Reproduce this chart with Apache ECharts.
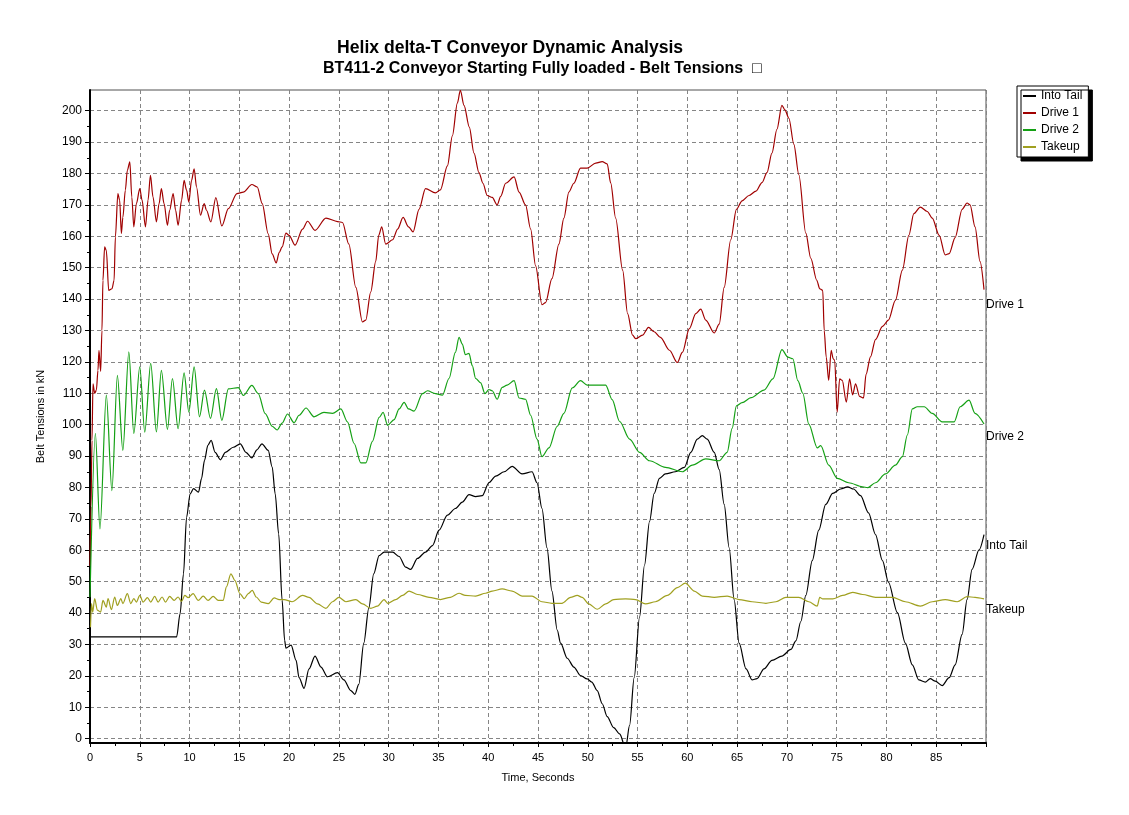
<!DOCTYPE html>
<html lang="en">
<head>
<meta charset="UTF-8"/>
<title>Helix delta-T Conveyor Dynamic Analysis</title>
<script src="https://cdn.jsdelivr.net/npm/echarts@6.0.0/dist/echarts.min.js"></script>
<style>
    html, body { margin: 0; padding: 0; background: #fff; }
    #chart { width: 1129px; height: 815px; }
</style>
</head>
<body>
<div id="chart"></div>
<script>
    // time (s) and belt tension (kN)
    const intoTailT = [0, 8.7, 9.05, 9.39, 9.7, 10.06, 10.4, 10.9, 11.2, 11.5, 11.84, 12.17, 12.57, 13.1, 13.6, 14.4, 15.1, 15.66, 16.26, 16.77, 17.27, 17.9, 18.3, 18.6, 18.95, 19.3, 19.55, 19.68, 20.2, 20.7, 21.0, 21.5, 22.0, 22.6, 23.2, 23.86, 24.86, 25.5, 26.2, 26.6, 27.0, 27.5, 28.0, 28.5, 29.04, 29.54, 30.4, 31.05, 31.7, 32.2, 32.9, 33.7, 34.4, 35.06, 35.9, 36.7, 37.4, 38.07, 38.74, 39.4, 40.07, 40.75, 41.6, 42.4, 43.4, 44.4, 44.9, 45.4, 45.9, 46.4, 46.93, 47.27, 47.94, 48.6, 49.27, 49.94, 50.4, 50.95, 51.45, 51.95, 52.6, 53.2, 53.8, 54.2, 54.66, 55.2, 55.7, 56.2, 56.67, 57.2, 57.8, 58.8, 59.7, 60.35, 61.0, 61.5, 62.0, 62.7, 63.2, 63.7, 64.2, 64.7, 65.2, 65.9, 66.5, 67.0, 67.7, 68.5, 69.5, 70.4, 70.9, 71.4, 71.9, 72.55, 73.2, 73.9, 74.6, 75.4, 76.1, 76.7, 77.4, 78.2, 78.9, 79.6, 80.2, 81.1, 81.9, 82.6, 83.25, 83.9, 84.4, 84.9, 85.6, 86.3, 86.9, 87.6, 88.1, 88.6, 89.3, 89.8];
    const intoTailV = [32.4, 32.4, 39.8, 52.5, 70.5, 78, 79.6, 78.5, 82.8, 88.6, 93.4, 95, 91.2, 88.8, 91.2, 92.8, 93.9, 91.2, 89.4, 92, 93.9, 91.8, 86.5, 78, 65.2, 44, 31.3, 28.8, 29.8, 24.9, 19.4, 16, 22.2, 26.3, 22.8, 19.7, 21, 18.7, 15.3, 14.1, 17.3, 30.4, 41.5, 52.5, 58.3, 59.4, 59.4, 58, 54.6, 53.9, 57.4, 59.4, 61.5, 66.4, 71.2, 73.3, 75.3, 77.7, 77.1, 77.4, 81.5, 83.6, 85, 86.7, 84.3, 85, 81.5, 73.3, 60.8, 47, 34.6, 30.4, 25.6, 22.8, 20.1, 19, 18, 15.3, 11.1, 7, 3.5, 1.5, -3, 4.2, 19.4, 38.7, 55.3, 69.1, 78.1, 82.9, 84.3, 85, 86.4, 91.2, 95.4, 96.5, 95.4, 91.2, 85.7, 74.6, 60.8, 44.3, 30.4, 22.2, 18.7, 19.1, 22.2, 24.9, 26.3, 28.4, 31.1, 37.3, 45.6, 56.7, 66.4, 74.6, 78.1, 79.5, 80.2, 79.5, 77.4, 71.9, 65, 56.7, 49.8, 40.1, 30.4, 23.5, 18.7, 18, 19.1, 18.3, 16.9, 19.4, 23.5, 33.2, 44.3, 53.9, 60.1, 65];

    const drive1T = [0, 0.1, 0.2, 0.3, 0.47, 0.64, 0.8, 0.9, 1.07, 1.2, 1.3, 1.47, 1.64, 1.88, 2.21, 2.42, 2.55, 2.8, 2.98, 3.15, 3.3, 3.55, 3.75, 4.0, 4.2, 4.4, 4.66, 5.0, 5.23, 5.57, 5.83, 6.07, 6.33, 6.67, 6.94, 7.17, 7.44, 7.78, 8.0, 8.35, 8.6, 8.85, 9.2, 9.45, 9.7, 9.93, 10.2, 10.46, 10.7, 11.1, 11.47, 11.7, 12.14, 12.64, 13.24, 13.9, 14.76, 15.4, 16.26, 16.8, 17.3, 17.9, 18.3, 18.7, 19.0, 19.3, 19.68, 20.0, 20.6, 21.35, 21.85, 22.6, 23.7, 24.86, 25.36, 26.0, 26.7, 27.37, 27.7, 28.2, 28.7, 29.0, 29.3, 29.7, 30.4, 30.9, 31.45, 32.0, 32.45, 33.05, 33.7, 34.7, 35.2, 35.9, 36.4, 36.9, 37.2, 37.57, 38.1, 38.57, 39.07, 39.47, 39.9, 40.4, 40.9, 41.25, 41.75, 42.6, 43.1, 43.75, 44.26, 44.76, 45.4, 45.76, 46.4, 47.1, 47.6, 48.1, 48.6, 49.27, 49.94, 50.8, 51.45, 51.95, 52.3, 52.8, 53.5, 54.0, 54.5, 54.8, 55.5, 56.1, 56.67, 57.3, 58.2, 59.0, 59.5, 60.2, 60.85, 61.35, 61.85, 62.7, 63.2, 63.7, 64.36, 64.93, 65.5, 66.2, 66.9, 67.5, 68.0, 68.5, 69.0, 69.5, 69.8, 70.2, 70.7, 71.2, 71.9, 72.4, 73.0, 73.3, 73.6, 73.75, 73.95, 74.2, 74.45, 74.65, 74.8, 75.05, 75.3, 75.56, 75.97, 76.3, 76.6, 76.9, 77.3, 77.7, 77.95, 78.4, 78.9, 79.6, 80.2, 80.9, 81.6, 82.25, 82.75, 83.4, 84.1, 84.6, 85.3, 85.9, 86.3, 86.9, 87.6, 88.1, 88.4, 88.9, 89.4, 89.8];
    const drive1V = [55, 74, 95, 113, 110, 111, 117.3, 123.7, 117, 130, 146, 156.6, 155.5, 142.8, 143.3, 146, 159.8, 173.6, 171.5, 160.9, 166, 174.7, 181, 183.7, 172.5, 163, 170.4, 175.2, 171.5, 163, 171.5, 179.4, 172.5, 164.6, 170.4, 175.2, 170.4, 163.5, 168.3, 173.6, 168.3, 163.5, 171.5, 177.8, 174.7, 170.9, 177.8, 181.5, 175.7, 166.7, 170.4, 168.3, 164.6, 172.3, 163.3, 168.8, 173.6, 174.1, 176.5, 175.7, 170.4, 160.8, 154.4, 151.5, 154.8, 156.6, 161, 160.3, 157.2, 162.3, 164.8, 161.9, 165.8, 164.7, 164.4, 157.5, 143.7, 132.7, 133.3, 142.3, 152, 160.3, 163, 157.5, 158.9, 162.3, 166, 163, 161.4, 168.6, 175.2, 173.8, 174.8, 182.4, 192, 202.4, 206.5, 201.7, 194.8, 186.5, 180.3, 176.9, 173, 172.4, 170, 172.7, 176.9, 178.9, 174.1, 170, 162.3, 150.6, 138.2, 138.9, 146.5, 157.5, 165.8, 174.1, 176.9, 181.7, 181.7, 183.3, 183.8, 183.1, 177, 165.8, 149.2, 135.4, 128.5, 127.4, 128.5, 131, 129.6, 127.8, 123.7, 119.8, 123, 130.6, 135.4, 136.8, 133.3, 129.2, 132, 143.7, 158.9, 168.6, 171.3, 173, 174.4, 177.1, 180.3, 186.5, 194.1, 201.7, 200.3, 197.6, 189.3, 179.6, 161, 153, 146, 143.3, 142.8, 130, 121.5, 114.1, 123.7, 121, 120.5, 104, 114.6, 114.1, 107.2, 114.6, 109.5, 113, 109, 108.5, 116, 121.6, 127.1, 131.3, 133.3, 139.6, 149.2, 160.3, 167.2, 169.3, 167.9, 165.8, 160.3, 154.1, 154.5, 159.6, 168.6, 170.6, 170, 163, 152, 143];

    const drive2T = [0, 0.54, 1.0, 1.64, 2.2, 2.75, 3.3, 3.9, 4.4, 5.0, 5.5, 6.1, 6.67, 7.17, 7.78, 8.28, 8.85, 9.45, 9.93, 10.46, 11.0, 11.5, 12.1, 12.7, 13.24, 13.9, 14.9, 15.4, 16.26, 16.9, 17.6, 18.3, 18.8, 19.3, 19.84, 20.5, 21.0, 21.7, 22.5, 23.5, 24.36, 25.2, 25.86, 26.53, 27.2, 27.7, 28.37, 29.04, 29.44, 29.9, 30.55, 31.05, 31.55, 32.0, 32.55, 33.4, 33.9, 34.7, 35.4, 36.06, 36.7, 37.07, 37.4, 37.7, 38.07, 38.4, 38.74, 39.24, 39.67, 40.07, 40.4, 40.9, 41.4, 41.9, 42.6, 43.1, 43.75, 44.26, 44.9, 45.4, 46.1, 46.93, 47.6, 48.44, 49.27, 49.94, 50.78, 51.8, 52.45, 53.2, 54.2, 55.2, 56.2, 57.8, 59.5, 60.5, 61.85, 63.2, 64.0, 64.5, 64.93, 65.5, 66.4, 67.7, 68.6, 69.5, 70.1, 70.6, 71.1, 71.6, 72.2, 73.05, 73.4, 74.2, 75.06, 76.2, 77.6, 78.1, 78.9, 79.9, 80.9, 81.6, 82.1, 82.6, 83.1, 83.8, 84.6, 85.6, 86.8, 87.4, 88.3, 88.9, 89.8];
    const drive2V = [45, 97.2, 66.8, 109.4, 79, 115.7, 91.8, 123.2, 97.2, 118.4, 97.6, 119.5, 97.7, 117.3, 98.5, 114.7, 98.7, 116.5, 104, 118.4, 102.5, 111, 102, 111.5, 101.4, 111.4, 111.8, 109.3, 112.5, 109.9, 103.5, 99.5, 98.3, 100.5, 103.4, 100.6, 103, 105.3, 102.5, 103.9, 103.6, 105, 100.9, 94, 87.8, 87.8, 94.7, 102.3, 103.9, 99.8, 101.6, 105, 107.1, 105, 104.3, 109.9, 110.8, 109.9, 109.4, 114.7, 123, 127.8, 125.7, 122.3, 122.7, 118.8, 114.7, 113.3, 109.9, 111.2, 110.8, 108.1, 111.9, 112.6, 114, 108.5, 108.1, 103, 95.4, 89.8, 92.6, 99.5, 103.6, 111.7, 114, 112.6, 112.6, 112.6, 108, 101, 95.4, 91.2, 88.5, 86.4, 85, 87.1, 89.1, 88.5, 91.2, 98.8, 106, 107, 108.6, 111, 114.6, 123.9, 121.5, 121, 114, 110, 100.2, 92.6, 93.3, 87.1, 82.9, 81.5, 80.2, 79.9, 81.5, 84.3, 87.1, 89.8, 96.7, 105, 105.7, 105.7, 103.6, 100.9, 100.9, 105.7, 107.8, 103.6, 100.2];

    const takeupT = [0.05, 0.15, 0.27, 0.47, 0.74, 1.07, 1.3, 1.64, 1.81, 2.15, 2.48, 2.75, 3.1, 3.3, 3.75, 4.1, 4.4, 4.66, 5.0, 5.33, 5.77, 6.1, 6.5, 6.84, 7.24, 7.58, 8.0, 8.45, 8.85, 9.19, 9.52, 9.86, 10.36, 10.87, 11.37, 11.87, 12.37, 12.88, 13.38, 13.7, 14.15, 14.55, 15.05, 15.5, 15.9, 16.3, 16.7, 17.2, 17.9, 18.5, 19.0, 19.5, 20.3, 21.35, 22.0, 22.85, 23.7, 24.36, 25.0, 25.7, 26.7, 27.37, 28.2, 28.87, 29.54, 29.9, 30.7, 31.4, 32.05, 32.9, 34.06, 35.2, 36.2, 37.07, 37.7, 38.74, 39.74, 40.4, 41.4, 42.4, 43.4, 44.4, 45.4, 46.4, 47.4, 48.27, 48.94, 49.44, 50.1, 50.95, 51.8, 52.6, 53.8, 54.8, 55.8, 56.8, 58.0, 59.0, 59.8, 60.7, 61.5, 62.7, 64.0, 65.2, 66.5, 67.9, 68.9, 69.9, 71.2, 72.2, 73.05, 73.3, 73.6, 74.6, 75.6, 76.6, 77.6, 78.9, 80.6, 81.9, 83.4, 84.6, 85.9, 87.1, 88.1, 88.9, 89.8];
    const takeupV = [35.5, 43, 40.3, 44.6, 40.9, 40.3, 44, 41.9, 44.6, 41.1, 45.1, 42.4, 44.6, 43, 46.2, 43, 44.6, 43.5, 45.6, 43.5, 44.9, 43.5, 45.3, 43.5, 45.1, 43.5, 45.3, 44, 45.1, 43.7, 45.6, 44.9, 46.2, 44, 45.4, 44, 45.3, 44, 44, 48.3, 52.5, 50.4, 46.2, 44.6, 46.2, 47.2, 45.1, 43.5, 43, 44.8, 44.3, 44.3, 43.6, 45.6, 45, 42.9, 41.5, 43.6, 45, 43.6, 44.3, 42.9, 41.5, 42.2, 44.3, 43.1, 44.3, 45.6, 47, 45.9, 45, 44.3, 45, 46.3, 45.6, 45.4, 46.3, 47, 47.7, 47, 45.4, 45.4, 43.6, 43.1, 43.1, 45, 45.6, 45, 42.9, 41.2, 42.9, 44.3, 44.5, 44.3, 42.9, 43.6, 45.6, 48.1, 49.5, 47, 45.4, 45, 45.4, 44.3, 43.6, 43.1, 43.6, 45, 45, 43.6, 42.2, 45, 44.5, 44.5, 45.6, 46.6, 45.9, 45, 45, 43.6, 42.2, 43.6, 44.3, 43.6, 45.2, 45, 44.5];

    // axis ticks
    const yMajorTicks = [0, 10, 20, 30, 40, 50, 60, 70, 80, 90, 100, 110, 120, 130, 140, 150, 160, 170, 180, 190, 200];
    const yMinorTicks = [5, 15, 25, 35, 45, 55, 65, 75, 85, 95, 105, 115, 125, 135, 145, 155, 165, 175, 185, 195];

    const seriesNames = ['Into Tail', 'Drive 1', 'Drive 2', 'Takeup'];
    const seriesColors = ['#000000', '#a00000', '#14a014', '#a0a020'];

    const FONT = 'Arial, "Liberation Sans", sans-serif';

    function pairs(t, v) {
        return t.map((x, i) => [x, v[i]]);
    }

    const chart = echarts.init(document.getElementById('chart'), null, { renderer: 'canvas' });

    const gridLine = { show: true, lineStyle: { color: '#858585', type: [4, 3], width: 1 } };

    function lineSeries(name, data, color, labelDy) {
        return {
            name: name,
            type: 'line',
            data: data,
            showSymbol: false,
            symbol: 'none',
            smooth: 0.3,
            smoothMonotone: 'x',
            lineStyle: { color: color, width: 1.2 },
            itemStyle: { color: color },
            endLabel: {
                show: true,
                formatter: name,
                color: '#000',
                fontSize: 12,
                fontFamily: FONT,
                distance: 2,
                offset: [0, labelDy]
            },
            emphasis: { disabled: true },
            animation: false
        };
    }

    chart.setOption({
        backgroundColor: '#ffffff',
        animation: false,
        title: [
            {
                text: 'Helix delta-T Conveyor Dynamic Analysis',
                left: 332, top: 34,
                textStyle: { fontSize: 17.6, fontWeight: 'bold', color: '#000', fontFamily: FONT }
            },
            {
                text: 'BT411-2 Conveyor Starting Fully loaded - Belt Tensions  \u25A1',
                left: 318, top: 56,
                textStyle: { fontSize: 16, fontWeight: 'bold', color: '#000', fontFamily: FONT }
            }
        ],
        legend: {
            data: seriesNames,
            orient: 'vertical',
            left: 1017, top: 86,
            padding: [4, 6, 4, 6],
            itemGap: 5,
            itemWidth: 13,
            itemHeight: 2,
            icon: 'rect',
            backgroundColor: '#fff',
            borderColor: '#000',
            borderWidth: 1,
            borderRadius: 0,
            shadowColor: '#000',
            shadowBlur: 0,
            shadowOffsetX: 4,
            shadowOffsetY: 4,
            selectedMode: false,
            textStyle: { fontSize: 12, color: '#000', fontFamily: FONT }
        },
        grid: {
            left: 90, right: 143, top: 90, bottom: 72,
            show: true,
            borderColor: '#505050',
            borderWidth: 1,
            backgroundColor: '#fff',
            outerBoundsMode: 'none'
        },
        xAxis: {
            type: 'value',
            min: 0, max: 90, interval: 5,
            name: 'Time, Seconds',
            nameLocation: 'middle',
            nameGap: 29,
            nameTextStyle: { fontSize: 11, color: '#000', fontFamily: FONT },
            axisLine: { show: true, onZero: false, lineStyle: { color: '#000', width: 2 } },
            axisTick: { show: true, inside: false, length: 4, lineStyle: { color: '#000' } },
            minorTick: { show: true, splitNumber: 2, length: 3, lineStyle: { color: '#000' } },
            axisLabel: { showMaxLabel: false, margin: 9, fontSize: 11, color: '#000', fontFamily: FONT },
            splitLine: gridLine
        },
        yAxis: [
            {
                type: 'value',
                min: -1.4, max: 206.6,
                name: 'Belt Tensions in kN',
                nameLocation: 'middle',
                nameGap: 44,
                nameTextStyle: { fontSize: 11, color: '#000', fontFamily: FONT },
                axisLine: { show: true, onZero: false, lineStyle: { color: '#000', width: 2 } },
                axisTick: { show: true, inside: false, length: 5, customValues: yMajorTicks, lineStyle: { color: '#000' } },
                axisLabel: { customValues: yMajorTicks, margin: 8, fontSize: 12, color: '#000', fontFamily: FONT },
                splitLine: gridLine
            },
            {
                type: 'value',
                min: -1.4, max: 206.6,
                position: 'left',
                axisLine: { show: false },
                axisTick: { show: true, inside: false, length: 3, customValues: yMinorTicks, lineStyle: { color: '#000' } },
                axisLabel: { show: false },
                splitLine: { show: false }
            }
        ],
        series: [
            lineSeries(seriesNames[0], pairs(intoTailT, intoTailV), seriesColors[0], 11),
            lineSeries(seriesNames[1], pairs(drive1T, drive1V), seriesColors[1], 15),
            lineSeries(seriesNames[2], pairs(drive2T, drive2V), seriesColors[2], 13),
            lineSeries(seriesNames[3], pairs(takeupT, takeupV), seriesColors[3], 11)
        ]
    });
</script>
</body>
</html>
